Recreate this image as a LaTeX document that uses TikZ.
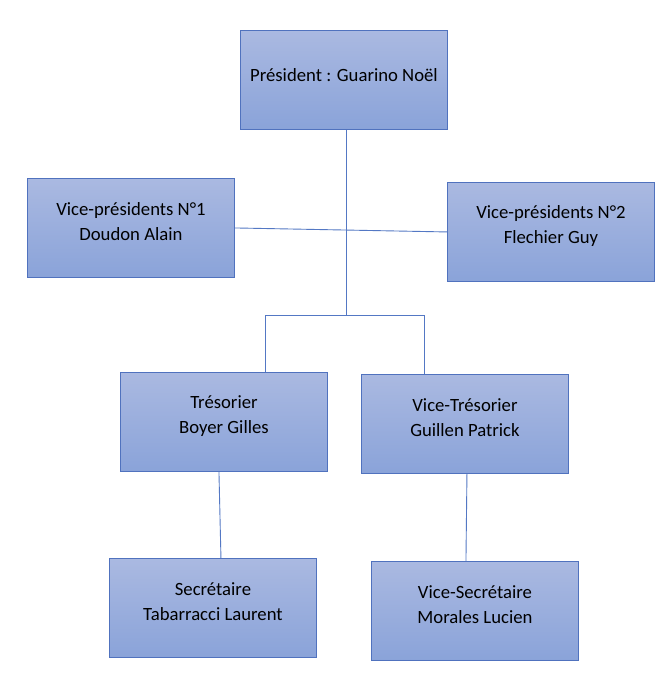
\documentclass[tikz,border=0pt]{standalone}
\usepackage{fontspec}
\setmainfont{Carlito}
\begin{document}
\begin{tikzpicture}[x=1pt,y=-1pt,
  orgbox/.style={draw=boxline, line width=0.9pt, top color=boxtop, bottom color=boxbot,
    minimum width=207pt, minimum height=99pt, inner sep=0pt, anchor=north west},
  orgtxt/.style={font=\fontsize{18.7}{25}\selectfont, align=center, text=black, inner sep=0pt},
  link/.style={draw=linkc, line width=0.9pt}]
\definecolor{boxtop}{RGB}{170,185,225}
\definecolor{boxbot}{RGB}{138,163,217}
\definecolor{boxline}{RGB}{80,114,190}
\definecolor{linkc}{RGB}{84,120,196}
\useasboundingbox (0,0) rectangle (669,687);
\fill[white] (0,0) rectangle (669,687);
% boxes
\node[orgbox] (pres) at (240,30) {};
\node[orgbox] (vp1) at (27,178) {};
\node[orgbox] (vp2) at (447,182) {};
\node[orgbox] (tres) at (120,372) {};
\node[orgbox] (vtres) at (361,374) {};
\node[orgbox] (sec) at (109,558) {};
\node[orgbox] (vsec) at (371,561) {};
% texts
\node[orgtxt] (tpres) at ([yshift=4.5]pres.center) {Président : Guarino Noël};
\node[orgtxt] (tvp1) at ([yshift=6]vp1.center) {Vice-présidents N°1\\Doudon Alain};
\node[orgtxt] (tvp2) at ([yshift=6]vp2.center) {Vice-présidents N°2\\Flechier Guy};
\node[orgtxt] (ttres) at ([yshift=6]tres.center) {Trésorier\\Boyer Gilles};
\node[orgtxt] (tvtres) at ([yshift=6]vtres.center) {Vice-Trésorier\\Guillen Patrick};
\node[orgtxt] (tsec) at ([yshift=6]sec.center) {Secrétaire\\Tabarracci Laurent};
\node[orgtxt] (tvsec) at ([yshift=6]vsec.center) {Vice-Secrétaire\\Morales Lucien};
% connectors
\coordinate (j) at (346,315);
\coordinate (jl) at (265,315);
\coordinate (jr) at (424,315);
\draw[link] (vp1.east) -- (vp2.west);
\draw[link] (pres.south -| j) -- (j);
\draw[link] (jl) -- (jr);
\draw[link] (jl) -- (tres.north -| jl);
\draw[link] (jr) -- (vtres.north -| jr);
\draw[link] ([xshift=-5]tres.south) -- ([xshift=8]sec.north);
\draw[link] ([xshift=2]vtres.south) -- ([xshift=-9]vsec.north);
\end{tikzpicture}
\end{document}
